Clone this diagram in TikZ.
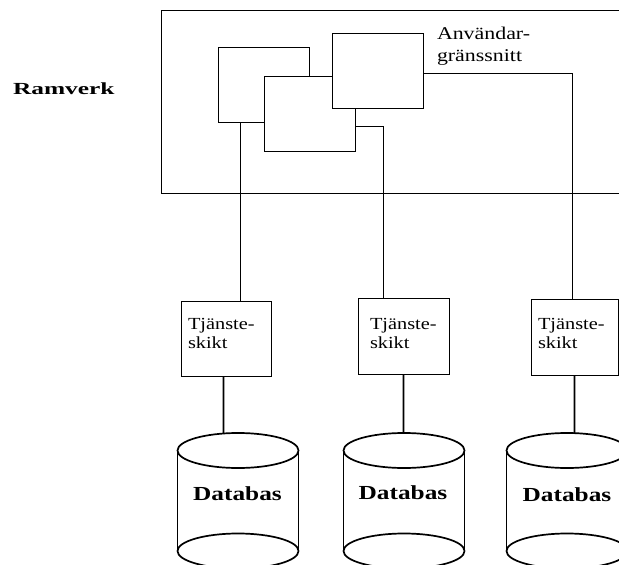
\documentclass[tikz,border=0pt]{standalone}
\usepackage{fontspec}
\setmainfont{Liberation Serif}
\newcommand{\tjfont}{\fontsize{17}{19}\selectfont}
\newcommand{\uifont}{\fontsize{18}{22}\selectfont}
\newcommand{\dbfont}{\fontsize{20}{22}\selectfont\bfseries}
\begin{document}
\begin{tikzpicture}[x=1bp,y=-1bp,line width=1.7bp,
  every node/.style={outer sep=0bp},
  box/.style={draw,fill=white,inner sep=0bp,minimum width=91bp,minimum height=75bp},
  txt/.style={inner sep=0bp,anchor=base west},
  dbtxt/.style={inner sep=0bp,anchor=base},
  dbr/.style={x radius=60.5bp,y radius=17.5bp}]
\useasboundingbox (0,0) rectangle (619,565);
\clip (0,0) rectangle (619,565);
\fill[white] (0,0) rectangle (619,565);
% framework
\node[draw,inner sep=0bp,minimum width=469bp,minimum height=183bp] (frame) at (396,102) {};
\node[txt] (ramverk) at (13,95) {\scalebox{1.5}[1]{\fontsize{17}{19}\selectfont\bfseries Ramverk}};
% UI windows
\node[box] (A) at (264,85) {};
\node[box] (B) at (310,114) {};
\node[box] (C) at (378,71) {};
\node[txt] (uia) at (437,40) {\scalebox{1.22}[1]{\uifont Användar-}};
\node[txt] (uib) at (437,62) {\scalebox{1.22}[1]{\uifont gränssnitt}};
% service boxes
\node[box,minimum width=90bp] (T1) at (226.5,339) {};
\node[box,minimum height=76bp] (T2) at (404,336.5) {};
\node[box,minimum width=87bp,minimum height=76bp] (T3) at (575,337.5) {};
\foreach \n/\tx in {1/188,2/370,3/538}{
  \node[txt] (t\n a) at (\tx,329) {\scalebox{1.2}[1]{\tjfont Tjänste-}};
  \node[txt] (t\n b) at (\tx,348) {\scalebox{1.2}[1]{\tjfont skikt}};
}
% databases
\foreach \n/\cx in {1/238,2/404,3/567}{
  \draw (\cx,450.5) ellipse [dbr];
  \draw (\cx-60.5,450.5) -- (\cx-60.5,551);
  \draw (\cx+60.5,450.5) -- (\cx+60.5,551);
  \draw (\cx,551) ellipse [dbr];
}
\coordinate (D1) at (223.5,433.5);
\coordinate (D2) at (403.5,433);
\coordinate (D3) at (574.5,433);
\node[dbtxt] (db1) at (237.5,500) {\scalebox{1.27}[1]{\dbfont Databas}};
\node[dbtxt] (db2) at (403,499) {\scalebox{1.27}[1]{\dbfont Databas}};
\node[dbtxt] (db3) at (567,501) {\scalebox{1.27}[1]{\dbfont Databas}};
% connectors
\draw ([xshift=22bp]A.south west) -- ([xshift=22bp]A.south west |- T1.north);
\draw ([yshift=-12.5bp]B.east) -| ([xshift=-20.5bp]T2.north);
\draw ([yshift=-2.5bp]C.east) -| ([xshift=-2.5bp]T3.north);
\draw ([xshift=-3bp]T1.south) -- (D1);
\draw ([xshift=-0.5bp]T2.south) -- (D2);
\draw ([xshift=-0.5bp]T3.south) -- (D3);
\end{tikzpicture}
\end{document}
